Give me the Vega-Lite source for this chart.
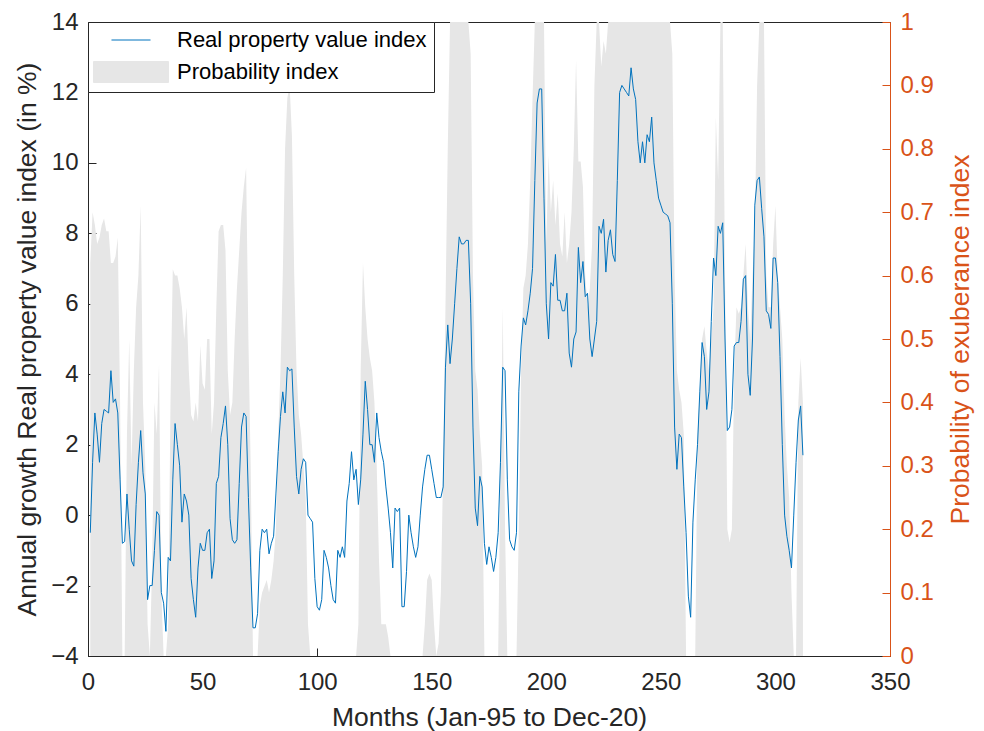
{
  "$schema": "https://vega.github.io/schema/vega-lite/v6.json",
  "width": 802,
  "height": 634,
  "autosize": "none",
  "padding": {"left": 88, "top": 22, "right": 94, "bottom": 75},
  "background": "white",
  "config": {
    "view": {"stroke": "#262626", "strokeWidth": 1},
    "font": "Liberation Sans",
    "axis": {"grid": false, "labelFontSize": 24, "titleFontSize": 26.5, "titleFontWeight": "normal", "labelFont": "Liberation Sans", "titleFont": "Liberation Sans", "tickSize": -8, "domainColor": "#262626", "tickColor": "#262626", "labelColor": "#262626", "titleColor": "#262626", "labelPadding": 18, "labelFlush": false, "labelOverlap": false}
  },
  "data": {"values": [
{"m":1,"v":-0.5,"p":0.62},{"m":2,"v":1.5,"p":0.70},{"m":3,"v":2.9,"p":0.68},{"m":4,"v":2.3,"p":0.65},{"m":5,"v":1.5,"p":0.66},
{"m":6,"v":2.6,"p":0.68},{"m":7,"v":3.0,"p":0.69},{"m":8,"v":2.95,"p":0.67},{"m":9,"v":2.9,"p":0.67},{"m":10,"v":4.1,"p":0.62},
{"m":11,"v":3.2,"p":0.62},{"m":12,"v":3.3,"p":0.63},{"m":13,"v":2.9,"p":0.66},{"m":14,"v":1.0,"p":0.40},{"m":15,"v":-0.8,"p":0},
{"m":16,"v":-0.75,"p":0},{"m":17,"v":0.6,"p":0.35},{"m":18,"v":-0.4,"p":0.50},{"m":19,"v":-1.3,"p":0.30},{"m":20,"v":-1.45,"p":0.45},
{"m":21,"v":0.3,"p":0.55},{"m":22,"v":1.5,"p":0.60},{"m":23,"v":2.4,"p":0.71},{"m":24,"v":1.2,"p":0.40},{"m":25,"v":0.6,"p":0.30},
{"m":26,"v":-2.4,"p":0.05},{"m":27,"v":-2.0,"p":0},{"m":28,"v":-2.0,"p":0.15},{"m":29,"v":-1.0,"p":0.40},{"m":30,"v":0.1,"p":0.35},
{"m":31,"v":0.0,"p":0.46},{"m":32,"v":-2.2,"p":0.10},{"m":33,"v":-2.5,"p":0},{"m":34,"v":-3.3,"p":0},{"m":35,"v":-1.2,"p":0.05},
{"m":36,"v":-1.3,"p":0.40},{"m":37,"v":1.0,"p":0.61},{"m":38,"v":2.6,"p":0.60},{"m":39,"v":2.0,"p":0.60},{"m":40,"v":1.4,"p":0.58},
{"m":41,"v":-0.2,"p":0.55},{"m":42,"v":0.6,"p":0.50},{"m":43,"v":0.4,"p":0.55},{"m":44,"v":0.0,"p":0.45},{"m":45,"v":-1.8,"p":0.38},
{"m":46,"v":-2.4,"p":0.37},{"m":47,"v":-2.9,"p":0.40},{"m":48,"v":-1.5,"p":0.37},{"m":49,"v":-0.8,"p":0.49},{"m":50,"v":-1.0,"p":0.43},
{"m":51,"v":-1.0,"p":0.42},{"m":52,"v":-0.5,"p":0.50},{"m":53,"v":-0.4,"p":0.50},{"m":54,"v":-1.8,"p":0.35},{"m":55,"v":-1.3,"p":0.40},
{"m":56,"v":0.9,"p":0.55},{"m":57,"v":1.1,"p":0.67},{"m":58,"v":2.2,"p":0.68},{"m":59,"v":2.6,"p":0.68},{"m":60,"v":3.1,"p":0.64},
{"m":61,"v":2.0,"p":0.45},{"m":62,"v":-0.1,"p":0.38},{"m":63,"v":-0.7,"p":0.40},{"m":64,"v":-0.8,"p":0.50},{"m":65,"v":-0.7,"p":0.58},
{"m":66,"v":0.9,"p":0.64},{"m":67,"v":2.5,"p":0.70},{"m":68,"v":2.9,"p":0.74},{"m":69,"v":2.8,"p":0.77},{"m":70,"v":0.5,"p":0.50},
{"m":71,"v":-1.5,"p":0.30},{"m":72,"v":-3.2,"p":0},{"m":73,"v":-3.2,"p":0},{"m":74,"v":-2.8,"p":0},{"m":75,"v":-1.0,"p":0.08},
{"m":76,"v":-0.4,"p":0.10},{"m":77,"v":-0.5,"p":0.11},{"m":78,"v":-0.4,"p":0.12},{"m":79,"v":-1.1,"p":0.10},{"m":80,"v":-0.8,"p":0.12},
{"m":81,"v":-0.6,"p":0.15},{"m":82,"v":0.6,"p":0.20},{"m":83,"v":1.8,"p":0.35},{"m":84,"v":2.8,"p":0.45},{"m":85,"v":3.5,"p":0.60},
{"m":86,"v":2.9,"p":0.80},{"m":87,"v":4.2,"p":0.88},{"m":88,"v":4.1,"p":0.90},{"m":89,"v":4.15,"p":0.82},{"m":90,"v":2.5,"p":0.60},
{"m":91,"v":1.1,"p":0.45},{"m":92,"v":0.6,"p":0.38},{"m":93,"v":1.3,"p":0.35},{"m":94,"v":1.6,"p":0.30},{"m":95,"v":1.5,"p":0.25},
{"m":96,"v":0.0,"p":0.05},{"m":97,"v":-0.1,"p":0},{"m":98,"v":-0.2,"p":0},{"m":99,"v":-1.8,"p":0},{"m":100,"v":-2.6,"p":0},
{"m":101,"v":-2.7,"p":0},{"m":102,"v":-2.4,"p":0},{"m":103,"v":-1.0,"p":0},{"m":104,"v":-1.2,"p":0},{"m":105,"v":-1.5,"p":0},
{"m":106,"v":-2.0,"p":0},{"m":107,"v":-2.4,"p":0},{"m":108,"v":-2.5,"p":0},{"m":109,"v":-1.0,"p":0},{"m":110,"v":-1.2,"p":0},
{"m":111,"v":-0.9,"p":0},{"m":112,"v":-1.2,"p":0},{"m":113,"v":0.4,"p":0},{"m":114,"v":0.9,"p":0},{"m":115,"v":1.8,"p":0},
{"m":116,"v":1.0,"p":0},{"m":117,"v":1.3,"p":0},{"m":118,"v":0.3,"p":0.05},{"m":119,"v":1.0,"p":0.45},{"m":120,"v":2.3,"p":0.62},
{"m":121,"v":3.8,"p":0.55},{"m":122,"v":3.0,"p":0.50},{"m":123,"v":2.0,"p":0.47},{"m":124,"v":2.0,"p":0.45},{"m":125,"v":1.5,"p":0.40},
{"m":126,"v":2.9,"p":0.30},{"m":127,"v":2.2,"p":0.15},{"m":128,"v":1.8,"p":0.05},{"m":129,"v":1.5,"p":0.05},{"m":130,"v":0.8,"p":0.05},
{"m":131,"v":0.2,"p":0.03},{"m":132,"v":-0.5,"p":0},{"m":133,"v":-1.5,"p":0},{"m":134,"v":0.2,"p":0},{"m":135,"v":0.1,"p":0},
{"m":136,"v":0.2,"p":0},{"m":137,"v":-2.6,"p":0},{"m":138,"v":-2.6,"p":0},{"m":139,"v":-1.6,"p":0},{"m":140,"v":0.0,"p":0},
{"m":141,"v":-0.5,"p":0},{"m":142,"v":-0.9,"p":0},{"m":143,"v":-1.2,"p":0},{"m":144,"v":-0.9,"p":0},{"m":145,"v":0.0,"p":0},
{"m":146,"v":0.8,"p":0},{"m":147,"v":1.3,"p":0.05},{"m":148,"v":1.7,"p":0.12},{"m":149,"v":1.7,"p":0.13},{"m":150,"v":1.3,"p":0.12},
{"m":151,"v":0.9,"p":0.05},{"m":152,"v":0.5,"p":0},{"m":153,"v":0.5,"p":0.02},{"m":154,"v":0.5,"p":0.10},{"m":155,"v":0.8,"p":0.30},
{"m":156,"v":4.2,"p":0.55},{"m":157,"v":5.4,"p":0.80},{"m":158,"v":4.3,"p":1},{"m":159,"v":5.0,"p":1},{"m":160,"v":6.0,"p":1},
{"m":161,"v":7.0,"p":1},{"m":162,"v":7.9,"p":1},{"m":163,"v":7.7,"p":1},{"m":164,"v":7.7,"p":1},{"m":165,"v":7.8,"p":1},
{"m":166,"v":7.8,"p":1},{"m":167,"v":6.0,"p":0.95},{"m":168,"v":2.5,"p":0.60},{"m":169,"v":0.2,"p":0.45},{"m":170,"v":-0.3,"p":0.42},
{"m":171,"v":1.1,"p":0.35},{"m":172,"v":0.8,"p":0.30},{"m":173,"v":-0.8,"p":0},{"m":174,"v":-1.4,"p":0},{"m":175,"v":-0.9,"p":0},
{"m":176,"v":-1.2,"p":0},{"m":177,"v":-1.6,"p":0},{"m":178,"v":-1.2,"p":0},{"m":179,"v":-0.5,"p":0},{"m":180,"v":1.5,"p":0.30},
{"m":181,"v":4.2,"p":0.55},{"m":182,"v":4.1,"p":0.20},{"m":183,"v":1.0,"p":0},{"m":184,"v":-0.7,"p":0},{"m":185,"v":-0.9,"p":0},
{"m":186,"v":-1.0,"p":0},{"m":187,"v":-0.5,"p":0},{"m":188,"v":3.5,"p":0.20},{"m":189,"v":4.8,"p":0.45},{"m":190,"v":5.6,"p":0.58},
{"m":191,"v":5.4,"p":0.60},{"m":192,"v":5.8,"p":0.65},{"m":193,"v":6.3,"p":0.75},{"m":194,"v":7.0,"p":0.88},{"m":195,"v":9.5,"p":1},
{"m":196,"v":11.7,"p":1},{"m":197,"v":12.1,"p":1},{"m":198,"v":12.1,"p":1},{"m":199,"v":9.0,"p":1},{"m":200,"v":6.0,"p":0.65},
{"m":201,"v":5.0,"p":0.79},{"m":202,"v":6.6,"p":0.70},{"m":203,"v":6.5,"p":0.75},{"m":204,"v":7.4,"p":0.68},{"m":205,"v":6.1,"p":0.73},
{"m":206,"v":6.1,"p":0.65},{"m":207,"v":5.8,"p":0.63},{"m":208,"v":5.8,"p":0.70},{"m":209,"v":6.3,"p":0.62},{"m":210,"v":4.6,"p":0.65},
{"m":211,"v":4.2,"p":0.70},{"m":212,"v":5.0,"p":0.80},{"m":213,"v":5.2,"p":0.94},{"m":214,"v":7.6,"p":0.78},{"m":215,"v":6.6,"p":0.78},
{"m":216,"v":7.2,"p":0.74},{"m":217,"v":6.2,"p":0.60},{"m":218,"v":6.3,"p":0.55},{"m":219,"v":5.0,"p":0.58},{"m":220,"v":4.5,"p":0.65},
{"m":221,"v":5.0,"p":0.90},{"m":222,"v":5.5,"p":1},{"m":223,"v":8.2,"p":1},{"m":224,"v":8.0,"p":0.93},{"m":225,"v":8.4,"p":0.97},
{"m":226,"v":6.9,"p":0.95},{"m":227,"v":7.8,"p":1},{"m":228,"v":8.1,"p":1},{"m":229,"v":7.4,"p":1},{"m":230,"v":7.2,"p":1},
{"m":231,"v":9.5,"p":1},{"m":232,"v":12.0,"p":1},{"m":233,"v":12.2,"p":1},{"m":234,"v":12.1,"p":1},{"m":235,"v":12.0,"p":1},
{"m":236,"v":11.9,"p":1},{"m":237,"v":12.7,"p":1},{"m":238,"v":12.1,"p":1},{"m":239,"v":11.8,"p":1},{"m":240,"v":10.6,"p":1},
{"m":241,"v":10.0,"p":1},{"m":242,"v":10.6,"p":1},{"m":243,"v":10.0,"p":1},{"m":244,"v":10.8,"p":1},{"m":245,"v":10.6,"p":1},
{"m":246,"v":11.3,"p":1},{"m":247,"v":10.0,"p":1},{"m":248,"v":9.5,"p":1},{"m":249,"v":9.0,"p":1},{"m":250,"v":8.8,"p":1},
{"m":251,"v":8.6,"p":1},{"m":252,"v":8.55,"p":1},{"m":253,"v":8.5,"p":1},{"m":254,"v":8.3,"p":1},{"m":255,"v":6.0,"p":0.95},
{"m":256,"v":2.5,"p":0.60},{"m":257,"v":1.3,"p":0.45},{"m":258,"v":2.3,"p":0.42},{"m":259,"v":2.2,"p":0.40},{"m":260,"v":0.8,"p":0.35},
{"m":261,"v":-0.5,"p":0},{"m":262,"v":-2.3,"p":0},{"m":263,"v":-2.9,"p":0},{"m":264,"v":-0.2,"p":0},{"m":265,"v":1.0,"p":0},
{"m":266,"v":2.0,"p":0.35},{"m":267,"v":3.5,"p":0.42},{"m":268,"v":4.9,"p":0.50},{"m":269,"v":4.5,"p":0.52},{"m":270,"v":3.0,"p":0.48},
{"m":271,"v":3.5,"p":0.45},{"m":272,"v":5.5,"p":0.50},{"m":273,"v":7.3,"p":0.55},{"m":274,"v":6.8,"p":0.85},{"m":275,"v":8.2,"p":0.75},
{"m":276,"v":8.0,"p":1},{"m":277,"v":8.3,"p":1},{"m":278,"v":5.0,"p":0.60},{"m":279,"v":2.4,"p":0.20},{"m":280,"v":2.5,"p":0.18},
{"m":281,"v":3.0,"p":0.20},{"m":282,"v":4.8,"p":0.45},{"m":283,"v":4.9,"p":0.55},{"m":284,"v":4.9,"p":0.54},{"m":285,"v":5.5,"p":0.55},
{"m":286,"v":6.7,"p":0.60},{"m":287,"v":6.8,"p":0.65},{"m":288,"v":4.0,"p":0.55},{"m":289,"v":3.4,"p":0.50},{"m":290,"v":5.0,"p":0.60},
{"m":291,"v":8.8,"p":0.67},{"m":292,"v":9.5,"p":0.90},{"m":293,"v":9.6,"p":1},{"m":294,"v":8.7,"p":1},{"m":295,"v":7.9,"p":1},
{"m":296,"v":5.8,"p":0.60},{"m":297,"v":5.7,"p":0.55},{"m":298,"v":5.3,"p":0.55},{"m":299,"v":7.3,"p":0.65},{"m":300,"v":7.3,"p":0.71},
{"m":301,"v":6.6,"p":0.60},{"m":302,"v":4.5,"p":0.55},{"m":303,"v":2.0,"p":0.50},{"m":304,"v":0.0,"p":0.38},{"m":305,"v":-0.6,"p":0.30},
{"m":306,"v":-1.0,"p":0.25},{"m":307,"v":-1.5,"p":0.10},{"m":308,"v":0.0,"p":0},{"m":309,"v":1.5,"p":0},{"m":310,"v":2.7,"p":0.40},
{"m":311,"v":3.1,"p":0.47},{"m":312,"v":1.7,"p":0.40}
  ]},
  "layer": [
    {
      "mark": {"type": "area", "interpolate": "linear"},
      "encoding": {
        "x": {"field": "m", "type": "quantitative", "scale": {"domain": [0, 350], "nice": false},
              "axis": {"values": [0, 50, 100, 150, 200, 250, 300, 350], "title": "Months (Jan-95 to Dec-20)", "labelPadding": 22, "titlePadding": 10}},
        "y": {"field": "p", "type": "quantitative", "scale": {"domain": [0, 1], "nice": false},
              "axis": {"orient": "right", "values": [0, 0.1, 0.2, 0.3, 0.4, 0.5, 0.6, 0.7, 0.8, 0.9, 1], "format": ".1~f",
                       "title": "Probability of exuberance index", "titleAngle": 270, "titleBaseline": "top", "titlePadding": 14, "labelPadding": 18,
                       "domainColor": "#D95319", "tickColor": "#D95319", "labelColor": "#D95319", "titleColor": "#D95319"}},
        "color": {"datum": "Probability index", "type": "nominal",
                  "scale": {"domain": ["Real property value index", "Probability index"], "range": ["#0072BD", "#e6e6e6"]},
                  "legend": {"title": null, "orient": "top-left", "offset": 0, "strokeColor": "#262626", "fillColor": "white",
                             "padding": 7, "labelFontSize": 22, "labelColor": "#000000", "labelFont": "Liberation Sans", "labelLimit": 400,
                             "symbolSize": 441, "rowPadding": 8, "symbolOffset": 25, "labelOffset": 35,
                             "encode": {"symbols": {"update": {
                               "shape": {"signal": "datum.value === 'Probability index' ? 'M-3.57,-1H3.57V1H-3.57Z' : 'M-1.86,0H1.86'"},
                               "fill": {"signal": "datum.value === 'Probability index' ? '#e6e6e6' : 'transparent'"},
                               "stroke": {"signal": "datum.value === 'Probability index' ? 'transparent' : '#0072BD'"},
                               "strokeWidth": {"value": 1}, "opacity": {"value": 1}, "fillOpacity": {"value": 1}}}}}}
      }
    },
    {
      "mark": {"type": "line", "strokeWidth": 1},
      "encoding": {
        "x": {"field": "m", "type": "quantitative"},
        "y": {"field": "v", "type": "quantitative", "scale": {"domain": [-4, 14], "nice": false},
              "axis": {"orient": "left", "values": [-4, -2, 0, 2, 4, 6, 8, 10, 12, 14],
                       "title": "Annual growth Real property value index (in %)", "titlePadding": 9}},
        "color": {"datum": "Real property value index", "type": "nominal"}
      }
    }
  ],
  "resolve": {"scale": {"y": "independent"}}
}
